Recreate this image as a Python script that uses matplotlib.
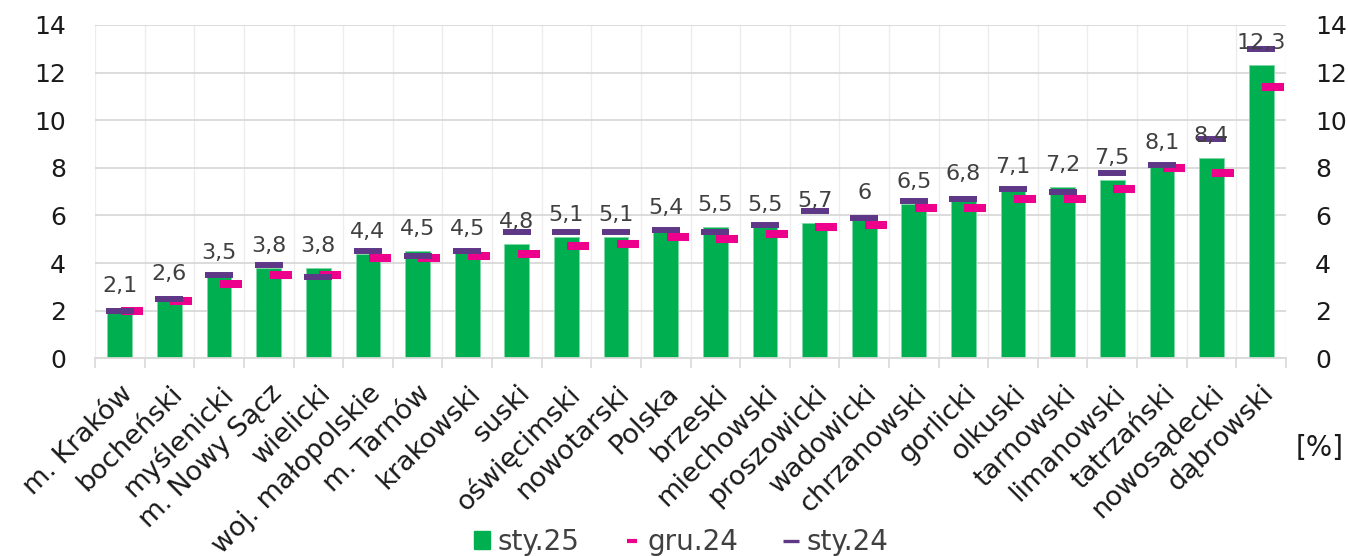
import matplotlib.pyplot as plt
import numpy as np
from matplotlib.lines import Line2D
from matplotlib.patches import Patch
from matplotlib.transforms import ScaledTranslation

categories = ["m. Kraków", "bocheński", "myślenicki", "m. Nowy Sącz", "wielicki",
              "woj. małopolskie", "m. Tarnów", "krakowski", "suski", "oświęcimski",
              "nowotarski", "Polska", "brzeski", "miechowski", "proszowicki",
              "wadowicki", "chrzanowski", "gorlicki", "olkuski", "tarnowski",
              "limanowski", "tatrzański", "nowosądecki", "dąbrowski"]
sty25 = [2.1, 2.6, 3.5, 3.8, 3.8, 4.4, 4.5, 4.5, 4.8, 5.1, 5.1, 5.4, 5.5, 5.5,
         5.7, 6.0, 6.5, 6.8, 7.1, 7.2, 7.5, 8.1, 8.4, 12.3]
gru24 = [2.0, 2.4, 3.1, 3.5, 3.5, 4.2, 4.2, 4.3, 4.4, 4.7, 4.8, 5.1, 5.0, 5.2,
         5.5, 5.6, 6.3, 6.3, 6.7, 6.7, 7.1, 8.0, 7.8, 11.4]
sty24 = [2.0, 2.5, 3.5, 3.9, 3.4, 4.5, 4.3, 4.5, 5.3, 5.3, 5.3, 5.4, 5.3, 5.6,
         6.2, 5.9, 6.6, 6.7, 7.1, 7.0, 7.8, 8.1, 9.2, 13.0]

GREEN = "#00B050"
PINK = "#EC008C"
PURPLE = "#5F3787"
TXT = "#1A1A1A"
LBL = "#404040"
GRID = "#D9D9D9"

plt.rcParams['font.family'] = ['DejaVu Sans']

fig = plt.figure(figsize=(13.48, 5.56), dpi=100)
ax = fig.add_axes([0.0705, 0.3556, 0.8835, 0.5995])

x = np.arange(len(categories))
ax.bar(x, sty25, width=0.5, color=GREEN, edgecolor="#7FD8A5", linewidth=0.6, zorder=2)
ax.plot(x + 0.24, gru24, linestyle="none", marker="_", markersize=16.5,
        markeredgewidth=5.8, color=PINK, zorder=3)
ax.plot(x, sty24, linestyle="none", marker="_", markersize=19.5,
        markeredgewidth=4.3, color=PURPLE, zorder=4)

for xi, v in zip(x, sty25):
    lbl = f"{v:g}".replace(".", ",")
    ax.annotate(lbl, (xi, v), xytext=(0, 11.5), textcoords="offset points",
                ha="center", va="baseline", fontsize=16, color=LBL, zorder=5)

ax.set_xlim(-0.5, len(categories) - 0.5)
ax.set_ylim(0, 14)
ax.set_yticks(np.arange(0, 15, 2))
ax.set_xticks(x)
ax.set_xticklabels(categories, rotation=45, ha="right", rotation_mode="anchor",
                   fontsize=19.5, color=TXT)
shift = ScaledTranslation(4 / 100, 0, fig.dpi_scale_trans)
for t in ax.get_xticklabels():
    t.set_transform(t.get_transform() + shift)
ax.set_xticks(np.arange(-0.5, len(categories), 1), minor=True)
ax.tick_params(axis="x", which="major", length=0, pad=16)
ax.tick_params(axis="x", which="minor", length=7, color=GRID, width=1.2)
ax.tick_params(axis="y", length=0, labelsize=18, labelcolor=TXT, pad=21,
               left=True, right=True, labelleft=True, labelright=True)

ax.grid(True, axis="y", color=GRID, linewidth=1.3, zorder=0)
ax.grid(True, axis="x", which="minor", color="#EDEDED", linewidth=1.0, zorder=0)
ax.grid(False, axis="x", which="major")
ax.set_axisbelow(True)
for s in ["top", "left", "right"]:
    ax.spines[s].set_visible(False)
ax.spines["bottom"].set_color(GRID)
ax.spines["bottom"].set_linewidth(1.3)

fig.text(0.9965, 0.195, "[%]", ha="right", va="center", fontsize=20, color=TXT)

handles = [Patch(facecolor=GREEN, edgecolor=GREEN),
           Line2D([], [], linestyle="none", marker="_", markersize=7,
                  markeredgewidth=3, color=PINK),
           Line2D([], [], linestyle="none", marker="_", markersize=12,
                  markeredgewidth=2.4, color=PURPLE)]
fig.legend(handles, ["sty.25", "gru.24", "sty.24"], loc="lower center",
           bbox_to_anchor=(0.505, -0.045), ncol=3, frameon=False, fontsize=20,
           labelcolor=LBL, handlelength=0.6, handleheight=0.6,
           handletextpad=0.25, columnspacing=1.6)

fig.savefig("out.png", dpi=100)
